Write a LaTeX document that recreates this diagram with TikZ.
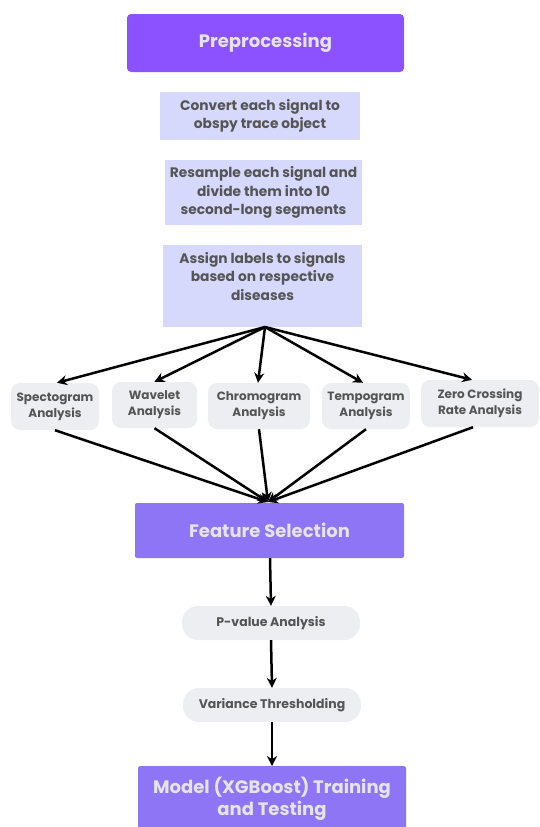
\documentclass[tikz,border=0pt]{standalone}
\usepackage{fontspec}
\setmainfont{Poppins}
\usetikzlibrary{arrows.meta}
\definecolor{prepurple}{HTML}{8C52FF}
\definecolor{featpurple}{HTML}{8E75F5}
\definecolor{lavender}{HTML}{D7D9FC}
\definecolor{graybox}{HTML}{ECEEF1}
\definecolor{darktext}{HTML}{555555}
\definecolor{lighttext}{HTML}{E4E4EA}
\tikzset{
  x=1pt, y=-1pt,
  headbox/.style={fill=#1, rounded corners=4pt, inner sep=0pt, align=center,
    text=lighttext, font=\fontsize{18}{22}\selectfont\bfseries},
  stepbox/.style={fill=lavender, inner sep=0pt, align=center, text=darktext,
    font=\fontsize{13.8}{18.5}\selectfont\bfseries},
  anbox/.style={fill=graybox, rounded corners=9pt, inner sep=0pt, align=center,
    text=darktext, font=\fontsize{12}{16}\selectfont\bfseries},
  pillbox/.style={fill=graybox, rounded corners=16pt, inner sep=0pt, align=center,
    text=darktext, font=\fontsize{12.5}{16}\selectfont\bfseries,
    minimum width=178pt, minimum height=34pt},
  arr/.style={line width=2.5pt, -{Stealth[length=10pt,width=10pt]}},
}
\begin{document}
\begin{tikzpicture}
\useasboundingbox (0,0) rectangle (539,827);
% top boxes
\node[headbox=prepurple, minimum width=277pt, minimum height=58pt] (pre) at (265.5,43) {Preprocessing};
\node[stepbox, minimum width=200pt, minimum height=48pt] (conv) at (260,116) {Convert each signal to\\obspy trace object};
\node[stepbox, minimum width=197pt, minimum height=65pt] (res) at (263.5,192.5) {Resample each signal and\\divide them into 10\\second-long segments};
\node[stepbox, minimum width=199pt, minimum height=82pt, anchor=north] (asg) at (262.5,245) {};
\node[stepbox, anchor=north] (asgt) at (262.5,252) {Assign labels to signals\\based on respective\\diseases};
% analysis row
\node[anbox, minimum width=88pt, minimum height=47pt] (sp) at (55,406.5) {Spectogram\\Analysis};
\node[anbox, minimum width=85pt, minimum height=46pt] (wv) at (154.5,405) {Wavelet\\Analysis};
\node[anbox, minimum width=102pt, minimum height=46pt] (ch) at (259,406) {Chromogram\\Analysis};
\node[anbox, minimum width=88pt, minimum height=46pt] (tp) at (366,406) {Tempogram\\Analysis};
\node[anbox, minimum width=118pt, minimum height=47pt] (zc) at (480,403.5) {Zero Crossing\\Rate Analysis};
% lower
\node[headbox=featpurple, rounded corners=2pt, minimum width=269pt, minimum height=55pt] (fs) at (269.5,530.5) {Feature Selection};
\node[pillbox] (pv) at (271,623) {P-value Analysis};
\node[pillbox] (vt) at (272,705) {Variance Thresholding};
\node[headbox=featpurple, rounded corners=2pt, minimum width=268pt, minimum height=70pt, anchor=north] (md) at (272,766) {};
\node[headbox=featpurple, anchor=north, fill=none] (mdt) at (272,777) {Model (XGBoost) Training\\and Testing};
% connectors
\coordinate (src) at (265,327);
\coordinate (snk) at (268,502);
\draw[arr] (src) -- ([xshift=2pt]sp.north);
\draw[arr] (src) -- (wv.north);
\draw[arr] (src) -- ([xshift=-1pt]ch.north);
\draw[arr] (src) -- ([xshift=-3pt]tp.north);
\draw[arr] (src) -- ([xshift=-8pt]zc.north);
\draw[arr] (sp.south) -- (snk);
\draw[arr] (wv.south) -- (snk);
\draw[arr] (ch.south) -- (snk);
\draw[arr] (tp.south) -- (snk);
\draw[arr] ([xshift=-7pt]zc.south) -- (snk);
\draw[arr] ([xshift=0.5pt]fs.south) -- (pv.north);
\draw[arr] (pv.south) -- (vt.north);
\draw[arr] (vt.south) -- (md.north);
\end{tikzpicture}
\end{document}
